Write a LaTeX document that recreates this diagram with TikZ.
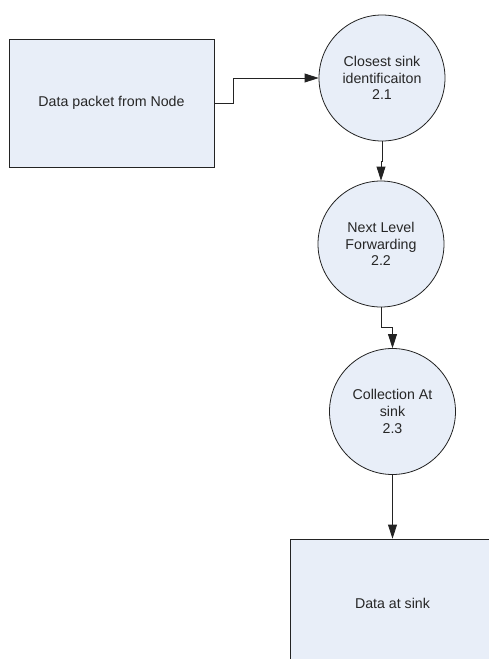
\documentclass[tikz,border=0pt]{standalone}
\usepackage{fontspec}
\setmainfont{Liberation Sans}
\usepackage[dvipsnames]{xcolor}
\usetikzlibrary{positioning,arrows.meta}
\definecolor{procfill}{RGB}{232,238,248}
\definecolor{edgegray}{RGB}{35,35,35}

\begin{document}
\begin{tikzpicture}[>={Triangle[length=14pt,width=9pt]},auto,line width=0.8pt,
    every node/.style={font=\fontsize{14.2}{16.8}\selectfont,text=black!85},
    proc node/.style={circle,draw=edgegray,fill=procfill,minimum size=126pt,inner sep=0pt,align=center},
    store node/.style={rectangle,draw=edgegray,fill=procfill,minimum width=205pt,minimum height=128pt,inner sep=0pt,align=center},
    flow/.style={->,draw=edgegray}]

                    \useasboundingbox (0,0) rectangle (489pt,-659pt);
                    \clip (0,0) rectangle (489pt,-659pt);

                    \node[proc node] (c1) at (382pt,-78pt) {Closest sink\\identificaiton\\2.1};
                    \node[store node] (r1) [left of=c1, node distance=270.5pt, yshift=-25pt] {Data packet from Node};
                    \node[proc node] (c2) [below of=c1, node distance=166pt, xshift=-1pt] {Next Level\\Forwarding\\2.2};
                    \node[proc node] (c3) [below of=c2, node distance=167.5pt, xshift=11.5pt] {Collection At\\sink\\2.3};
                    \node[store node] (r2) [below of=c3, node distance=191.5pt] {Data at sink};

                    \draw[flow] (r1.east) -- ++(19pt,0) |- (c1.west);
                    \draw[flow] (c1.south) -- ++(0,-20pt) -| (c2.north);
                    \draw[flow] (c2.south) -- ++(0,-20pt) -| (c3.north);
                    \draw[flow] (c3.south) -- (r2.north);
                \end{tikzpicture}
\end{document}
